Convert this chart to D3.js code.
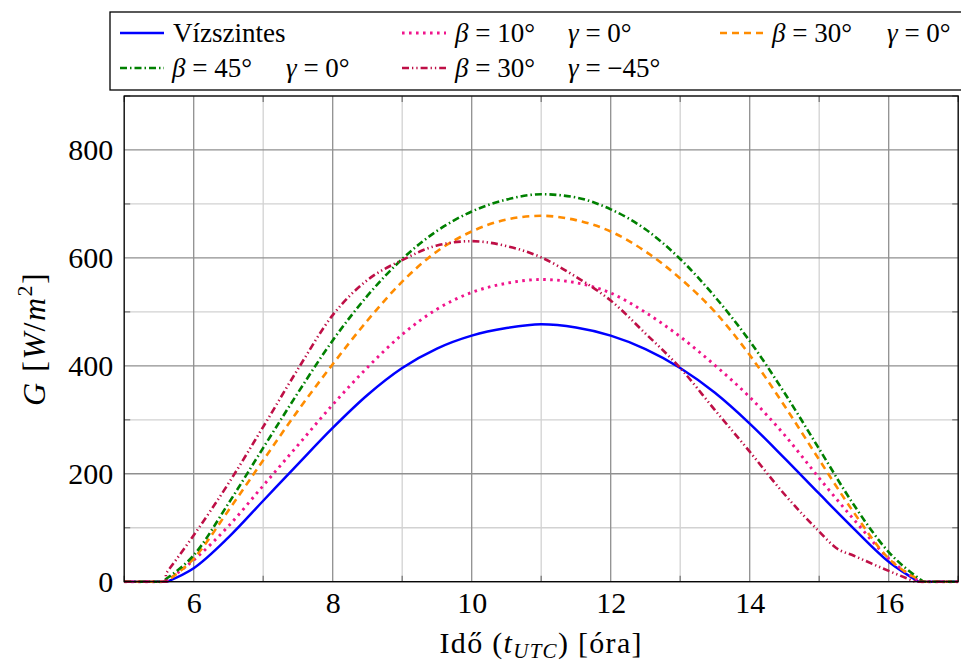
<!DOCTYPE html>
<html><head><meta charset="utf-8">
<script src="https://cdn.jsdelivr.net/npm/d3@7"></script>
<style>body{margin:0;background:#fff}svg{display:block}</style>
</head><body>
<svg id="chart" width="961" height="663"></svg>
<script>
// ---------- data ----------
const hours = [6,6.5,7,7.5,8,8.5,9,9.5,10,10.5,11,11.5,12,12.5,13,13.5,14,14.5,15,15.5,16];
const gHorizontal = [25,82,150,218,285,346,396,432,456,470,477,471,456,431,396,350,293,229,163,98,37];
const gB10G0     = [40,103,178,253,328,397,458,505,536,553,560,554,535,499,454,401,342,272,192,115,43];
const gB30G0     = [43,132,225,317,403,484,556,612,649,671,678,670,649,612,562,500,420,326,226,128,43];
const gB45G0     = [49,145,248,350,447,530,598,650,686,708,718,712,690,653,598,528,446,350,246,142,55];
const hoursB30Gm45 = [6,6.5,7,7.5,8,8.5,9,9.5,10,10.5,11,11.5,12,12.5,13,13.5,14,14.5,15,15.25,15.5,16];
const gB30Gm45   = [86,182,287,394,494,559,596,623,631,622,601,565,521,460,396,318,241,162,93,62,48,20];
const sunrise    = [5.62,5.6,5.6,5.6,5.6];
const sunriseVal = [0,0,0,5,15];
const sunset     = [16.43,16.45,16.5,16.5,16.38];
const seriesLabels = ["Vízszintes","β10γ0","β30γ0","β45γ0","β30γ−45"];
const xTicks = [6,8,10,12,14,16];
const xMinor = [5,7,9,11,13,15,17];
const yTicks = [0,200,400,600,800];
const yMinor = [100,300,500,700,900];

// ---------- setup ----------
const FONT = "'Liberation Serif','Times New Roman',serif";
const svg = d3.select("#chart");
const L = 124.2, R = 958.2, T = 96, B = 581.7;
const x = d3.scaleLinear().domain([5,17]).range([L,R]);
const y = d3.scaleLinear().domain([0,900]).range([B,T]);

const series = [
  {hours: hours, values: gHorizontal, color:"#0000ff", dash:null, w:2.5},
  {hours: hours, values: gB10G0, color:"#f0148c", dash:"2.6,4.4", w:2.9},
  {hours: hours, values: gB30G0, color:"#ff8c00", dash:"7,5", w:2.6},
  {hours: hours, values: gB45G0, color:"#008000", dash:"7,3,1.5,3", w:2.6},
  {hours: hoursB30Gm45, values: gB30Gm45, color:"#be0f46", dash:"7,3,1.3,3,1.3,3", w:2.6}
];
series.forEach((s,i)=>{ s.rise=sunrise[i]; s.riseVal=sunriseVal[i]; s.set=sunset[i]; s.label=seriesLabels[i]; });

// ---------- grid ----------
const grid = svg.append("g");
grid.selectAll(".vmin").data(xMinor).join("line")
  .attr("x1",d=>x(d)).attr("x2",d=>x(d)).attr("y1",T).attr("y2",B)
  .attr("stroke","#d2d2d2").attr("stroke-width",1.3);
grid.selectAll(".hmin").data(yMinor).join("line")
  .attr("x1",L).attr("x2",R).attr("y1",d=>y(d)).attr("y2",d=>y(d))
  .attr("stroke","#d2d2d2").attr("stroke-width",1.3);
grid.selectAll(".vmaj").data(xTicks).join("line")
  .attr("x1",d=>x(d)).attr("x2",d=>x(d)).attr("y1",T).attr("y2",B)
  .attr("stroke","#8f8f8f").attr("stroke-width",1.3);
grid.selectAll(".hmaj").data(yTicks).join("line")
  .attr("x1",L).attr("x2",R).attr("y1",d=>y(d)).attr("y2",d=>y(d))
  .attr("stroke","#8f8f8f").attr("stroke-width",1.3);
const tk = svg.append("g").attr("stroke","#7a7a7a").attr("stroke-width",1.3);
xMinor.forEach(v=>{
  tk.append("line").attr("x1",x(v)).attr("x2",x(v)).attr("y1",B).attr("y2",B-6);
  tk.append("line").attr("x1",x(v)).attr("x2",x(v)).attr("y1",T).attr("y2",T+6);
});
yMinor.forEach(v=>{
  tk.append("line").attr("x1",L).attr("x2",L+6).attr("y1",y(v)).attr("y2",y(v));
  tk.append("line").attr("x1",R).attr("x2",R-6).attr("y1",y(v)).attr("y2",y(v));
});

// ---------- lines ----------
const lineDay = d3.line().x(d=>x(d[0])).y(d=>y(d[1])).curve(d3.curveMonotoneX);
const lineFlat = d3.line().x(d=>x(d[0])).y(d=>y(d[1]));
function pathFor(s){
  const day = [[s.rise,s.riseVal]].concat(s.hours.map((h,i)=>[h,s.values[i]])).concat([[s.set,0]]);
  return lineFlat([[5,0],[s.rise,0]]) + lineDay(day).replace(/^M/,"L") + lineFlat([[s.set,0],[17,0]]).replace(/^M/,"L");
}
svg.append("clipPath").attr("id","clip").append("rect").attr("x",L).attr("y",T-2).attr("width",R-L).attr("height",B-T+4);
svg.append("g").attr("clip-path","url(#clip)").selectAll("path").data(series).join("path")
  .attr("d",pathFor).attr("fill","none").attr("stroke",d=>d.color)
  .attr("stroke-width",d=>d.w).attr("stroke-dasharray",d=>d.dash);

// ---------- frame ----------
svg.append("rect").attr("x",L).attr("y",T).attr("width",R-L).attr("height",B-T)
  .attr("fill","none").attr("stroke","#000").attr("stroke-width",1.3);

// ---------- axes ----------
const xAxis = svg.append("g").attr("transform",`translate(0,${B})`)
  .call(d3.axisBottom(x).tickValues(xTicks).tickSize(0).tickPadding(10.5).tickFormat(d3.format("d")));
const yAxis = svg.append("g").attr("transform",`translate(${L},0)`)
  .call(d3.axisLeft(y).tickValues(yTicks).tickSize(0).tickPadding(11).tickFormat(d3.format("d")));
[xAxis,yAxis].forEach(a=>{ a.select(".domain").remove(); a.selectAll("text").attr("font-family",FONT).attr("font-size",30).attr("fill","#000"); });

// axis titles
const xt = svg.append("text").attr("x",(L+R)/2).attr("y",653).attr("text-anchor","middle")
  .attr("font-family",FONT).attr("font-size",30).attr("letter-spacing",1.3).attr("fill","#000");
xt.append("tspan").text("Idő (");
xt.append("tspan").attr("font-style","italic").text("t");
xt.append("tspan").attr("font-style","italic").attr("font-size",21).attr("dy",5).text("UTC");
xt.append("tspan").attr("dy",-5).text(") [óra]");

const yt = svg.append("text").attr("transform",`translate(45,${(T+B)/2}) rotate(-90)`).attr("text-anchor","middle")
  .attr("font-family",FONT).attr("font-size",32).attr("letter-spacing",1.5).attr("fill","#000");
yt.append("tspan").attr("font-style","italic").text("G");
yt.append("tspan").text(" [");
yt.append("tspan").attr("font-style","italic").text("W");
yt.append("tspan").text("/");
yt.append("tspan").attr("font-style","italic").text("m");
yt.append("tspan").attr("font-size",22).attr("dy",-13).text("2");
yt.append("tspan").attr("dy",13).text("]");

// ---------- legend ----------
const lg = svg.append("g");
lg.append("rect").attr("x",110).attr("y",12).attr("width",870).attr("height",78)
  .attr("fill","#fff").attr("stroke","#000").attr("stroke-width",1.3);
const legendPos = [
  {lx:120, tx:173, gx:null, row:0},
  {lx:402, tx:455, gx:568, row:0},
  {lx:720, tx:772, gx:887, row:0},
  {lx:120, tx:172, gx:286, row:1},
  {lx:402, tx:455, gx:568, row:1}
];
const betaTxt = [null,"10°","30°","45°","30°"];
const gammaTxt = [null,"0°","0°","0°","−45°"];
series.forEach((s,i)=>{
  const p = legendPos[i];
  const ly = p.row===0 ? 33 : 68;
  const by = p.row===0 ? 42 : 77;
  lg.append("line").attr("x1",p.lx).attr("x2",p.lx+44).attr("y1",ly).attr("y2",ly)
    .attr("stroke",s.color).attr("stroke-width",s.w).attr("stroke-dasharray",s.dash);
  const t = lg.append("text").attr("x",p.tx).attr("y",by).attr("font-family",FONT).attr("font-size",27).attr("fill","#000");
  if(i===0){ t.text(s.label); return; }
  t.append("tspan").attr("font-style","italic").text("β");
  t.append("tspan").text(" = " + betaTxt[i]);
  t.append("tspan").attr("x",p.gx).attr("font-style","italic").text("γ");
  t.append("tspan").text(" = " + gammaTxt[i]);
});
</script>
</body></html>
